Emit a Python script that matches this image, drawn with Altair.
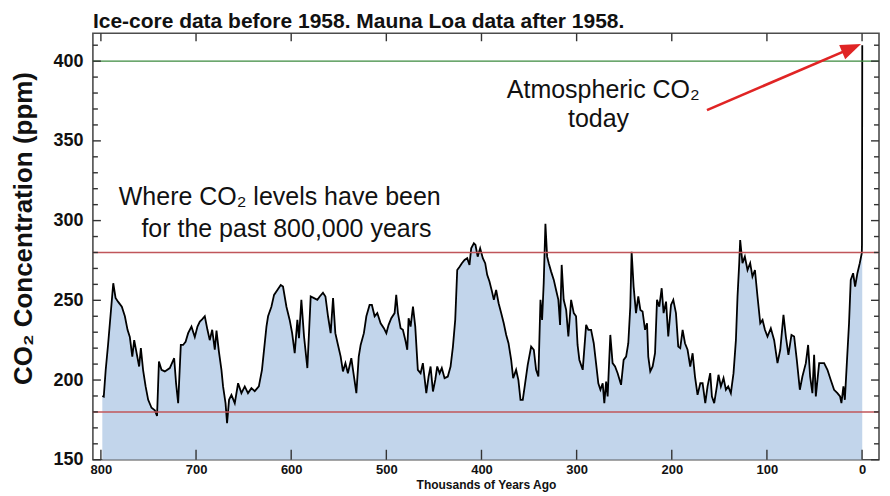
import altair as alt
import pandas as pd

# ---------------- data ----------------
ages = [798.5, 797, 795, 792.5, 787, 784.6, 781.8, 778, 774.8, 772, 769.6, 767, 765, 762.5, 759.8, 758,
        755.6, 753, 750.3, 746.8, 743.3, 741, 739, 736.3, 732.8, 727.6, 723, 721, 718.8, 716, 713.6, 711,
        708.3, 704.8, 701.3, 698.5, 696, 693.6, 690.8, 688, 685.6, 683, 680.3, 678.5, 676, 673.3, 671.6,
        669, 667.4, 665.3, 662.8, 659.3, 655.8, 652.3, 648.8, 645.4, 641.8, 638.3, 634, 630.7, 626, 624.3,
        620.8, 618, 614.5, 611, 608.6, 605, 601.6, 599, 596.3, 593.5, 591.8, 589.3, 586.5, 583, 579.5, 576,
        572.5, 570, 566.6, 564, 561.3, 558.5, 556, 553.6, 550.8, 548, 545.6, 543, 540.4, 536.8, 534, 531.5,
        529, 527, 523.6, 521, 517.6, 515.2, 512.3, 509.5, 506, 502.6, 500, 497.6, 494.8, 491.3, 489.6,
        487.8, 485, 482.6, 480, 478, 476.6, 474.5, 472, 469.6, 466.9, 464, 461.6, 458, 455.6, 453.5, 451,
        448.6, 446.5, 444, 441.7, 438.8, 435.4, 432.5, 430, 427.6, 425.5, 423, 420.6, 417.8, 415, 412.6,
        410.8, 408, 406.3, 404, 401.4, 398.6, 396.1, 394, 391.6, 389, 387, 384.6, 382, 379.3, 376.6, 374,
        371.6, 368.8, 366.7, 363.6, 361.2, 359, 356.6, 354.1, 351.4, 347.8, 345, 342.6, 340.2, 338, 336.3,
        334.6, 332.8, 331, 329.3, 326.8, 324, 321.6, 319.2, 317.4, 315.7, 313.6, 311, 308.7, 305.8, 303,
        300.6, 299, 297.1, 293.6, 290, 287.7, 284.8, 282, 279.6, 277.2, 275, 272.6, 270.9, 269, 267.4,
        264.6, 262.2, 259.6, 256.9, 253.3, 250.6, 248, 245.7, 243.6, 242.2, 240.1, 237.6, 235.2, 233,
        230.7, 228.1, 226, 224.7, 222.6, 220.1, 217.6, 215.5, 213.1, 210.6, 208.6, 206, 203.7, 200.8,
        198.4, 195.6, 193.2, 191.1, 188.6, 186.1, 183.4, 180.6, 178.1, 175.6, 172.9, 170, 167.6, 164.8,
        162.4, 159.6, 157.8, 155.4, 152.6, 150.9, 148.4, 145.6, 143.1, 140.7, 137.9, 135.1, 132.6, 130.9,
        129.1, 128.1, 125.7, 123.2, 120.4, 117.6, 115.2, 112.6, 109.9, 107, 104.6, 102.1, 99.4, 95.9,
        92.4, 88.9, 86, 82.6, 80.1, 77.4, 74.2, 71.4, 68.6, 65.4, 62.7, 59.1, 56.7, 54.6, 52.2, 50.4, 48.6,
        45.1, 39.9, 36.4, 32.9, 29.4, 25.9, 23.1, 21.7, 19.6, 18.1, 16, 13.7, 11.9, 9.4, 7.3, 4.9, 2.4,
        0.3, 0.1, -0.2]
co2 = [190, 189.6, 206, 222, 260.7, 251.5, 249, 246, 240, 231.5, 227, 214.7, 225, 217, 208.5, 220,
       206, 196, 187.6, 182.6, 181, 177.5, 211.6, 206.4, 205.4, 207.5, 213.7, 198, 185.5, 222, 222, 224,
       229.4, 233.5, 227, 233.5, 236.7, 238, 240, 231.5, 225, 231.5, 219, 231, 218, 206.4, 196,
       185.5, 173, 187.6, 190.7, 185.5, 198, 191.8, 196, 191.8, 194.9, 193, 196, 206.4, 233.5, 240,
       246, 253.4, 256.5, 259.6, 258.6, 246, 237.7, 229.4, 216.8, 237.7, 226.3, 250.3, 227.3, 207.5, 252.4, 251.4,
       250.3, 252.4, 254.8, 252.4, 240, 229.4, 251.4, 229.4, 222, 214.7, 205.4, 210.6, 204.3, 213.7, 202.2, 191.8,
       214.7, 222, 229.4, 240, 247.1, 247.1, 240, 242, 235.6, 232.5, 229.4, 234.6, 238.8, 242, 253.4,
       242, 232.5, 231.5, 225, 219, 238.8, 233.5, 246, 233.5, 206.4, 204.3, 210.6, 191.8, 202.2, 208.5, 192.8,
       200.1, 208.5, 204.3, 207.5, 201.2, 202.2, 208.5, 221, 237.7, 269, 271.1, 273.3, 275.3, 276.4, 272.2,
       282.6, 285.8, 284.7, 277.4, 282.6, 276.4, 273.3, 266, 261.8, 255.6, 250.3, 256.5, 248.2, 242, 235.6, 228.3,
       223.1, 212.6, 201.2, 206.4, 200, 187.6, 187.6, 198, 209.5, 221, 219, 206.4, 202.2, 250.3, 237.7,
       260.7, 298, 277.4, 273.3, 268, 262.8, 256.5, 250.3, 234.6, 272.2, 250.3, 244, 227.3, 250.3, 242,
       240, 222, 212.6, 206.4, 234.6, 231.5, 231.5, 223.1, 210.6, 198, 193.9, 198, 185.5, 199, 189.7,
       228.3, 210.6, 208.5, 204.3, 197, 212.6, 214.7, 223.1, 246, 280.5, 258.6, 242, 252.4, 244,
       243, 231.5, 235.6, 214.7, 205.4, 208.5, 216.8, 250.3, 246, 257.6, 242, 249.2, 227.3, 247.1,
       250.3, 242, 221, 220, 231.5, 223.1, 219, 208.5, 216.8, 202.2, 190.7, 198, 198, 185.5,
       196, 204.3, 189.7, 185.5, 196, 203.3, 196, 201.2, 193.9, 196, 191.8, 204.3, 225, 252.4,
       273.3, 287.8, 273.3, 277.4, 269, 273.3, 264.9, 269, 252.4, 235.6, 237.7, 231.5, 227.3, 232.5,
       225, 210.6, 219, 240.9, 227.3, 215.8, 228.3, 227.3, 212.6, 193.9, 202.2, 210.6, 222, 202.2, 191.8, 215.8, 189.7,
       210.6, 210.6, 206.4, 200, 193.9, 191.8, 189.7, 185.5, 196, 187.6, 210.6, 235.6, 262.8, 267, 258.6, 267, 273.3,
       279.6, 285, 410]

x_ticks = [800, 700, 600, 500, 400, 300, 200, 100, 0]
y_labels = [150, 200, 250, 300, 350, 400]
y_minor = [v for v in range(160, 420, 10) if v % 50 != 0]

ref_levels = [400, 280, 180]
ref_colors = ["#3b8a3e", "#c0565a", "#c0565a"]

note_text = ["Where CO₂ levels have been", "for the past 800,000 years", "Atmospheric CO₂", "today"]
note_age = [612, 605, 272, 277]
note_val = [309.8, 289.7, 376.8, 358.8]

arrow_tail = [163, 369.3]
arrow_head = [11.0, 408.2]

# ---------------- layout ----------------
W, H = 787, 427
xs = alt.Scale(domain=[-17.8, 808.4], reverse=True, nice=False, zero=False)
ys = alt.Scale(domain=[150, 417.5], nice=False, zero=False)
SANS = "Liberation Sans"

AX = alt.Axis(
    values=x_ticks, title="Thousands of Years Ago", tickSize=0, domain=False, grid=False,
    labelFont=SANS, labelFontSize=13, labelFontWeight="bold", labelColor="#111",
    labelPadding=4, titleFont=SANS, titleFontSize=12, titleFontWeight="bold",
    titleColor="#111", titlePadding=3)
AY = alt.Axis(
    values=y_labels, title="CO₂ Concentration (ppm)", tickSize=0, domain=False, grid=False,
    labelFont=SANS, labelFontSize=18, labelFontWeight="bold", labelColor="#111",
    labelPadding=10, titleFont=SANS, titleFontSize=26, titleFontWeight="bold",
    titleColor="#111", titleX=-69, titleY=195, titleAngle=-90, titleAlign="center",
    titleBaseline="middle")

df = pd.DataFrame({"age": ages, "co2": co2})
df["base"] = 150

area = alt.Chart(df).mark_area(color="#c2d5eb", clip=True).encode(
    x=alt.X("age:Q", scale=xs, axis=AX),
    y=alt.Y("co2:Q", scale=ys, axis=AY),
    y2="base:Q",
)

line = alt.Chart(df).mark_line(color="black", strokeWidth=1.8, clip=True).encode(
    x=alt.X("age:Q", scale=xs, axis=AX),
    y=alt.Y("co2:Q", scale=ys, axis=AY),
)

ref_df = pd.DataFrame({"level": ref_levels, "color": ref_colors})
refs = alt.Chart(ref_df).mark_rule(strokeWidth=1.4).encode(
    y=alt.Y("level:Q", scale=ys, axis=AY),
    color=alt.Color("color:N", scale=None),
)

# inward ticks
ymaj = pd.DataFrame({"v": y_labels})
ymin = pd.DataFrame({"v": y_minor})
xt = pd.DataFrame({"t": x_ticks})
tick_style = dict(color="#333", strokeWidth=1.4)

def ytick(data, x0, x1):
    return alt.Chart(data).mark_rule(**tick_style).encode(
        y=alt.Y("v:Q", scale=ys, axis=AY), x=alt.value(x0), x2=alt.value(x1))

def xtick(y0, y1):
    return alt.Chart(xt).mark_rule(**tick_style).encode(
        x=alt.X("t:Q", scale=xs, axis=AX), y=alt.value(y0), y2=alt.value(y1))

ticks = [ytick(ymaj, 0, 8), ytick(ymin, 0, 5), ytick(ymaj, W - 8, W), ytick(ymin, W - 5, W),
         xtick(H - 10, H), xtick(0, 8)]

note_df = pd.DataFrame({"age": note_age, "val": note_val, "text": note_text})
notes = alt.Chart(note_df).mark_text(
    font=SANS, fontSize=25, align="center", baseline="alphabetic", color="#111"
).encode(
    x=alt.X("age:Q", scale=xs, axis=AX),
    y=alt.Y("val:Q", scale=ys, axis=AY),
    text="text:N",
)

arrow_df = pd.DataFrame({"a0": [arrow_tail[0]], "v0": [arrow_tail[1]],
                         "a1": [arrow_head[0]], "v1": [arrow_head[1]]})
arrow_line = alt.Chart(arrow_df).mark_rule(color="#e02424", strokeWidth=2.6).encode(
    x=alt.X("a0:Q", scale=xs, axis=AX), y=alt.Y("v0:Q", scale=ys, axis=AY),
    x2="a1:Q", y2="v1:Q",
)
arrow_tip = alt.Chart(arrow_df).mark_point(
    shape="M0,-1L0.75,1L-0.75,1Z", size=420, filled=True, opacity=1, color="#e02424", angle=67
).encode(
    x=alt.X("a1:Q", scale=xs, axis=AX), y=alt.Y("v1:Q", scale=ys, axis=AY),
)

chart = alt.layer(area, line, refs, *ticks, notes, arrow_line, arrow_tip).properties(
    width=W, height=H,
    autosize=alt.AutoSizeParams(type="none"),
    padding={"left": 85, "top": 25, "right": 3, "bottom": 35},
    title=alt.TitleParams(
        text="Ice-core data before 1958. Mauna Loa data after 1958.",
        anchor="start", frame="group", font=SANS, fontSize=21,
        fontWeight="bold", color="#111", offset=1),
    background="white",
).configure_view(stroke="#4d4d4d", strokeWidth=1.6)

chart.save("out.html", embed_options={"renderer": "svg", "actions": False})
